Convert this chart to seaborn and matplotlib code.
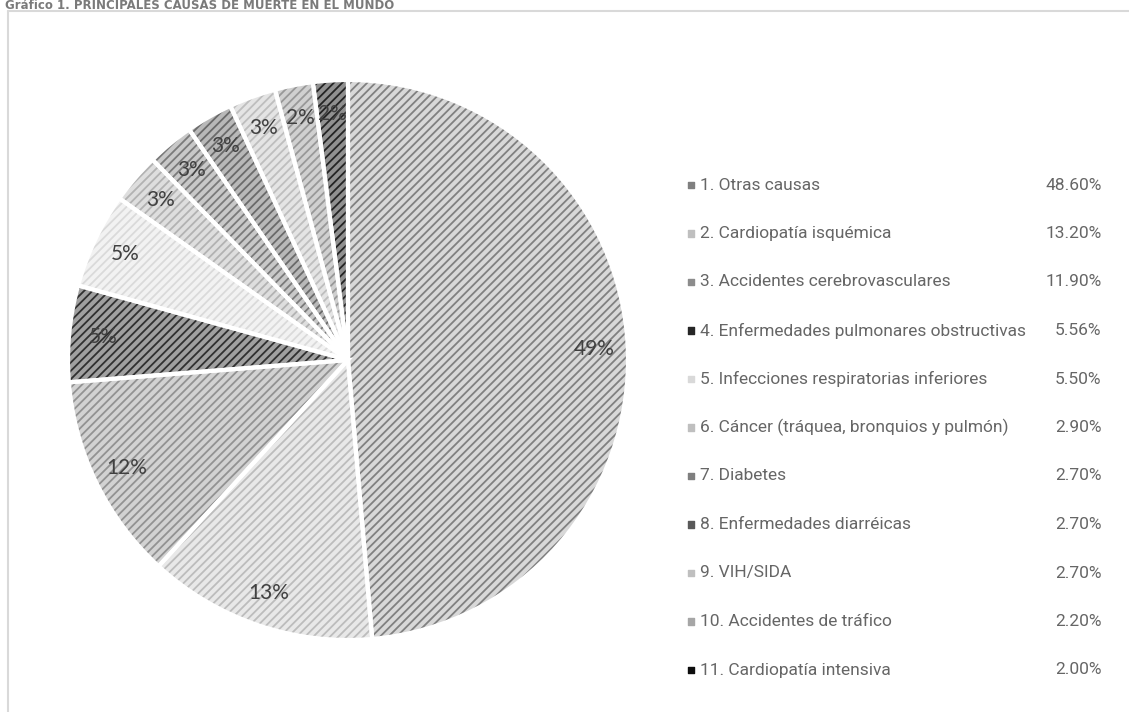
import matplotlib
matplotlib.use("Agg")
import matplotlib.pyplot as plt
import seaborn as sns
from matplotlib.lines import Line2D

sns.set_theme(style="white")
plt.rcParams['font.family'] = ['Lato', 'DejaVu Sans']
plt.rcParams['hatch.linewidth'] = 1.3

causes = [
    "1. Otras causas",
    "2. Cardiopatía isquémica",
    "3. Accidentes cerebrovasculares",
    "4. Enfermedades pulmonares obstructivas",
    "5. Infecciones respiratorias inferiores",
    "6. Cáncer (tráquea, bronquios y pulmón)",
    "7. Diabetes",
    "8. Enfermedades diarréicas",
    "9. VIH/SIDA",
    "10. Accidentes de tráfico",
    "11. Cardiopatía intensiva",
]
shares = [48.60, 13.20, 11.90, 5.56, 5.50, 2.90, 2.70, 2.70, 2.70, 2.20, 2.00]
# labels as printed on the slices
slice_labels = ["49%", "13%", "12%", "5%", "5%", "3%", "3%", "3%", "3%", "2%", "2%"]

# background / hatch grey per slice, and legend swatch
face_cols = ["#d8d8d8", "#e8e8e8", "#d2d2d2", "#a0a0a0", "#f2f2f2", "#dedede",
             "#c8c8c8", "#b8b8b8", "#e4e4e4", "#d0d0d0", "#909090"]
hatch_cols = ["#808080", "#bcbcbc", "#929292", "#303030", "#dadada", "#b2b2b2",
              "#7a7a7a", "#6a6a6a", "#bebebe", "#989898", "#242424"]
swatch_cols = ["#7f7f7f", "#bfbfbf", "#8c8c8c", "#262626", "#d9d9d9", "#bfbfbf",
               "#7f7f7f", "#595959", "#bfbfbf", "#a6a6a6", "#0d0d0d"]

W, H = 1129, 712
fig = plt.figure(figsize=(W / 100, H / 100), dpi=100)
fig.patch.set_facecolor("white")

# title and frame lines
fig.text(5 / W, 1 - 9 / H, "Gráfico 1. PRINCIPALES CAUSAS DE MUERTE EN EL MUNDO",
         fontsize=8.5, fontweight="bold", color="#7a7a7a", va="baseline", ha="left",
         family=["DejaVu Sans"])
fig.add_artist(Line2D([8 / W, 1.0], [1 - 11 / H, 1 - 11 / H], color="#d9d9d9", lw=1.5))
fig.add_artist(Line2D([8 / W, 8 / W], [0.0, 1 - 11 / H], color="#d9d9d9", lw=1.5))

# pie
cx, cy, r = 348, 360, 280
ax = fig.add_axes([(cx - r) / W, (H - cy - r) / H, 2 * r / W, 2 * r / H])
kw = dict(startangle=90, counterclock=False, radius=1)
wedges, texts = ax.pie(shares, colors=face_cols, labels=slice_labels, labeldistance=0.88,
                       wedgeprops=dict(linewidth=0),
                       textprops=dict(fontsize=15, color="#404040", ha="center", va="center"),
                       **kw)
hw, _ = ax.pie(shares, colors=["none"] * len(shares), wedgeprops=dict(linewidth=0), **kw)
for w, hc in zip(hw, hatch_cols):
    w.set_hatch("////")
    w.set_edgecolor(hc)
ax.pie(shares, colors=["none"] * len(shares),
       wedgeprops=dict(linewidth=3, edgecolor="white"), **kw)
for t in texts:
    t.set_zorder(10)
ax.set_xlim(-1, 1)
ax.set_ylim(-1, 1)
ax.set_aspect("equal")
ax.axis("off")

# legend column
top, bot = 185, 670
lax = fig.add_axes([680 / W, (H - bot) / H, (1105 - 680) / W, (bot - top) / H])
lax.set_xlim(0, 1)
lax.set_ylim(len(causes) - 1, 0)
lax.axis("off")
rows = list(range(len(causes)))
lax.scatter([0.026] * len(rows), rows, marker="s", s=20, c=swatch_cols, clip_on=False)
for i, (name, val) in enumerate(zip(causes, shares)):
    lax.text(0.047, i, name, fontsize=12.5, color="#666666", va="center", ha="left",
             family=["Roboto", "DejaVu Sans"])
    lax.text(0.992, i, f"{val:.2f}%", fontsize=12.5, color="#666666", va="center", ha="right",
             family=["Roboto", "DejaVu Sans"])

fig.savefig("out.png", dpi=100)
